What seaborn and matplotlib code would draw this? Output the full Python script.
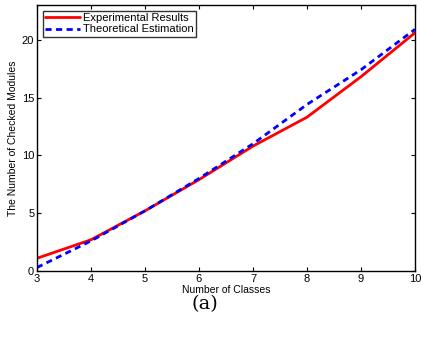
import matplotlib
matplotlib.use("Agg")
import matplotlib.pyplot as plt
import seaborn as sns
import pandas as pd

classes = [3, 4, 5, 6, 7, 8, 9, 10]
experimental = [1.1, 2.7, 5.2, 7.9, 10.8, 13.3, 16.8, 20.6]
theoretical = [0.3, 2.6, 5.2, 8.0, 11.0, 14.4, 17.4, 20.9]
xticks = [3, 4, 5, 6, 7, 8, 9, 10]
yticks = [0, 5, 10, 15, 20]

sns.set_theme(style="ticks")
plt.rcParams['font.family'] = ['Liberation Sans', 'DejaVu Sans']
plt.rcParams['text.color'] = 'black'
plt.rcParams['axes.labelcolor'] = 'black'
plt.rcParams['xtick.color'] = 'black'
plt.rcParams['ytick.color'] = 'black'

df = pd.DataFrame({"classes": classes, "exp": experimental, "theo": theoretical})

fig = plt.figure(figsize=(4.21, 3.37), dpi=100)
ax = fig.add_axes([37/421, 1 - 271/337, 378/421, 266/337])

sns.lineplot(data=df, x="classes", y="exp", ax=ax, color="#ff0000", lw=2,
             label="Experimental Results")
sns.lineplot(data=df, x="classes", y="theo", ax=ax, color="#0000ff", lw=2,
             linestyle=(0, (2.2, 1.6)), label="Theoretical Estimation")

ax.set_xlim(3, 10)
ax.set_ylim(0, 23)
ax.set_xticks(xticks)
ax.set_yticks(yticks)
ax.tick_params(direction="in", top=True, right=True, labelsize=8, length=3, width=0.8, pad=2)
for s in ax.spines.values():
    s.set_linewidth(1.0)
    s.set_color("black")
ax.set_xlabel("Number of Classes", fontsize=7.5, labelpad=1)
ax.set_ylabel("The Number of Checked Modules", fontsize=7.5, labelpad=3)

leg = ax.legend(loc="upper left", fontsize=8, frameon=True, fancybox=False,
                borderpad=0.2, labelspacing=0.15, handlelength=3.2, handletextpad=0.2,
                borderaxespad=0.5)
leg.get_frame().set_edgecolor("black")
leg.get_frame().set_linewidth(1.0)

fig.text(205/421, 1 - 304/337, "(a)", ha="center", va="center", fontsize=14,
         family=["DejaVu Serif"])

fig.savefig("out.png", dpi=100)
